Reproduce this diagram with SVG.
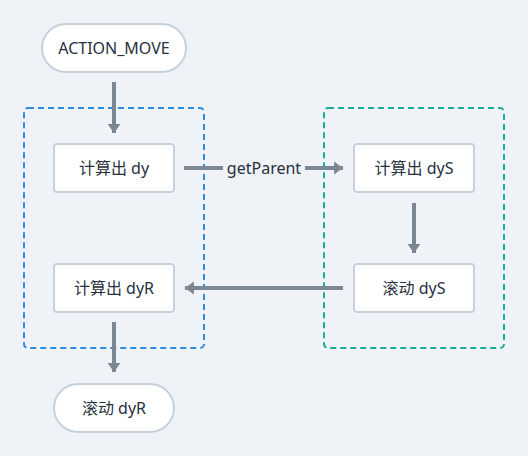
<svg xmlns="http://www.w3.org/2000/svg" width="528" height="456" viewBox="0 0 528 456">
<defs>
<style>
.node{fill:#ffffff;stroke:#c7d1dc;stroke-width:2}
.t{font-family:"Noto Sans","Noto Sans CJK SC",sans-serif;font-size:16px;fill:#27303d;text-anchor:middle;dominant-baseline:central}
.c{stroke:#7b8794;stroke-width:4;fill:none}
.grp{fill:none;stroke-width:2;stroke-dasharray:6 4}
</style>
<marker id="ah" viewBox="0 0 7 10" refX="7" refY="5" markerWidth="2.3" markerHeight="3.3" orient="auto" markerUnits="strokeWidth">
<path d="M0,0 L7,5 L0,10 z" fill="#7b8794"/>
</marker>
</defs>
<rect width="528" height="456" fill="#eff2f6"/>
<g id="groups">
<rect class="grp" x="24" y="108" width="180" height="240" rx="4" stroke="#2d8ce3"/>
<rect class="grp" x="324" y="108" width="180" height="240" rx="4" stroke="#19ad98"/>
</g>
<g id="connectors">
<line class="c" x1="114" y1="82" x2="114" y2="133" marker-end="url(#ah)"/>
<line class="c" x1="184" y1="168" x2="223" y2="168"/>
<line class="c" x1="305" y1="168" x2="343" y2="168" marker-end="url(#ah)"/>
<text class="t" x="264" y="168">getParent</text>
<line class="c" x1="414" y1="203" x2="414" y2="253" marker-end="url(#ah)"/>
<line class="c" x1="343" y1="288" x2="185" y2="288" marker-end="url(#ah)"/>
<line class="c" x1="114" y1="322" x2="114" y2="372" marker-end="url(#ah)"/>
</g>
<g id="n-action-move">
<rect class="node" x="42" y="24" width="144" height="48" rx="24"/>
<text class="t" x="114" y="48">ACTION_MOVE</text>
</g>
<g id="n-calc-dy">
<rect class="node" x="54" y="144" width="120" height="48" rx="3"/>
<text class="t" x="114" y="168">计算出 dy</text>
</g>
<g id="n-calc-dys">
<rect class="node" x="354" y="144" width="120" height="48" rx="3"/>
<text class="t" x="414" y="168">计算出 dyS</text>
</g>
<g id="n-scroll-dys">
<rect class="node" x="354" y="264" width="120" height="48" rx="3"/>
<text class="t" x="414" y="288">滚动 dyS</text>
</g>
<g id="n-calc-dyr">
<rect class="node" x="54" y="264" width="120" height="48" rx="3"/>
<text class="t" x="114" y="288">计算出 dyR</text>
</g>
<g id="n-scroll-dyr">
<rect class="node" x="54" y="384" width="120" height="48" rx="24"/>
<text class="t" x="114" y="408">滚动 dyR</text>
</g>
</svg>
